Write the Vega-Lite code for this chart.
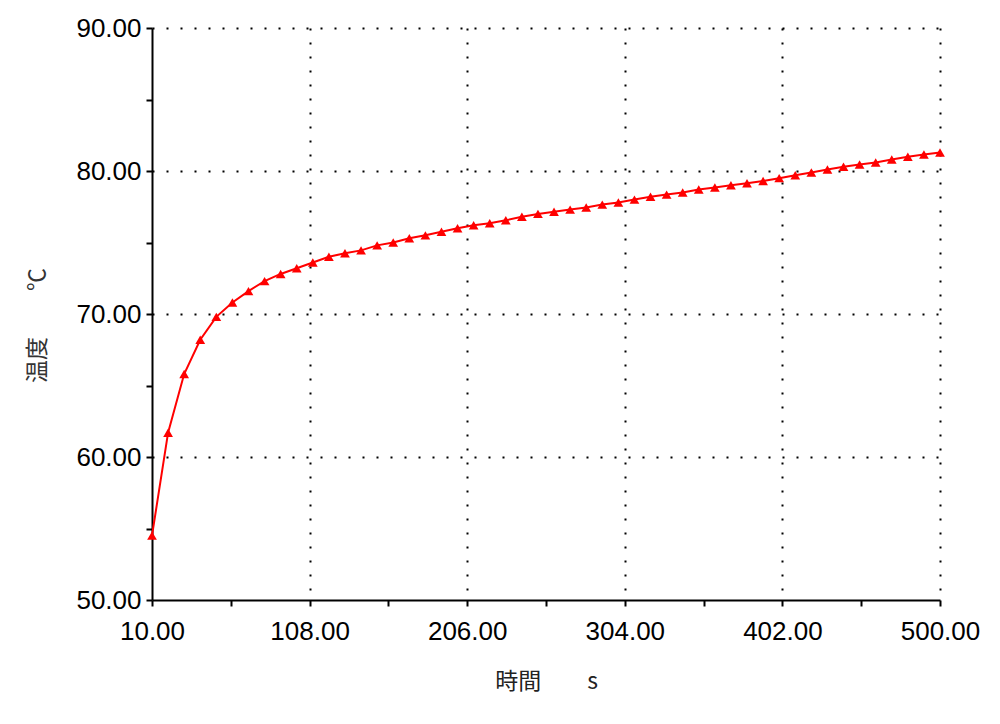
{
  "$schema": "https://vega.github.io/schema/vega-lite/v6.json",
  "autosize": "none",
  "width": 788,
  "height": 572,
  "padding": {"left": 152, "top": 28, "right": 60, "bottom": 124},
  "background": "white",
  "config": {"view": {"stroke": null}},
  "data": {"values": [
    {"t": 10, "temp": 54.5}, {"t": 20, "temp": 61.7}, {"t": 30, "temp": 65.8}, {"t": 40, "temp": 68.2},
    {"t": 50, "temp": 69.8}, {"t": 60, "temp": 70.8}, {"t": 70, "temp": 71.6}, {"t": 80, "temp": 72.3},
    {"t": 90, "temp": 72.8}, {"t": 100, "temp": 73.2}, {"t": 110, "temp": 73.6}, {"t": 120, "temp": 74.0},
    {"t": 130, "temp": 74.25}, {"t": 140, "temp": 74.45}, {"t": 150, "temp": 74.8}, {"t": 160, "temp": 75.0},
    {"t": 170, "temp": 75.3}, {"t": 180, "temp": 75.5}, {"t": 190, "temp": 75.75}, {"t": 200, "temp": 76.0},
    {"t": 210, "temp": 76.2}, {"t": 220, "temp": 76.35}, {"t": 230, "temp": 76.55}, {"t": 240, "temp": 76.8},
    {"t": 250, "temp": 77.0}, {"t": 260, "temp": 77.15}, {"t": 270, "temp": 77.3}, {"t": 280, "temp": 77.45},
    {"t": 290, "temp": 77.65}, {"t": 300, "temp": 77.8}, {"t": 310, "temp": 78.0}, {"t": 320, "temp": 78.2},
    {"t": 330, "temp": 78.35}, {"t": 340, "temp": 78.5}, {"t": 350, "temp": 78.7}, {"t": 360, "temp": 78.85},
    {"t": 370, "temp": 79.0}, {"t": 380, "temp": 79.15}, {"t": 390, "temp": 79.3}, {"t": 400, "temp": 79.5},
    {"t": 410, "temp": 79.7}, {"t": 420, "temp": 79.9}, {"t": 430, "temp": 80.1}, {"t": 440, "temp": 80.3},
    {"t": 450, "temp": 80.45}, {"t": 460, "temp": 80.6}, {"t": 470, "temp": 80.8}, {"t": 480, "temp": 81.0},
    {"t": 490, "temp": 81.15}, {"t": 500, "temp": 81.3}
  ]},
  "encoding": {
    "x": {
      "field": "t", "type": "quantitative",
      "scale": {"domain": [10, 500], "nice": false, "zero": false},
      "axis": {
        "title": "時間　　s",
        "values": [10, 59, 108, 157, 206, 255, 304, 353, 402, 451, 500],
        "labelExpr": "(datum.value - 10) % 98 == 0 ? format(datum.value, '.2f') : ''",
        "labelFont": "Liberation Sans", "labelFontSize": 26, "labelColor": "#000",
        "labelPadding": 12, "labelFlush": false, "labelOverlap": false,
        "titleFont": "Noto Sans CJK JP", "titleFontSize": 23, "titleFontWeight": "normal", "titleColor": "#222",
        "titlePadding": 26,
        "domainColor": "#000", "domainWidth": 2,
        "tickColor": "#000", "tickWidth": 2, "tickSize": 6,
        "grid": true, "gridColor": "#000", "gridWidth": 2, "gridDash": [2, 12],
        "gridOpacity": {"condition": {"test": "(datum.value - 10) % 98 == 0 && datum.value > 10", "value": 1}, "value": 0}
      }
    },
    "y": {
      "field": "temp", "type": "quantitative",
      "scale": {"domain": [50, 90], "nice": false, "zero": false},
      "axis": {
        "title": "温度　　℃",
        "values": [50, 55, 60, 65, 70, 75, 80, 85, 90],
        "labelExpr": "datum.value % 10 == 0 ? format(datum.value, '.2f') : ''",
        "labelFont": "Liberation Sans", "labelFontSize": 26, "labelColor": "#000",
        "labelPadding": 5, "labelFlush": false, "labelOverlap": false,
        "titleFont": "Noto Sans CJK JP", "titleFontSize": 23, "titleFontWeight": "normal", "titleColor": "#333",
        "titlePadding": 26, "titleY": 297,
        "domainColor": "#000", "domainWidth": 2,
        "tickColor": "#000", "tickWidth": 2, "tickSize": 6,
        "grid": true, "gridColor": "#000", "gridWidth": 2, "gridDash": [2, 12],
        "gridOpacity": {"condition": {"test": "datum.value % 10 == 0 && datum.value > 50", "value": 1}, "value": 0}
      }
    }
  },
  "layer": [
    {"mark": {"type": "line", "color": "#ff0000", "strokeWidth": 2}},
    {"mark": {"type": "point", "shape": "triangle-up", "filled": true, "color": "#ff0000", "opacity": 1, "size": 95}}
  ]
}
